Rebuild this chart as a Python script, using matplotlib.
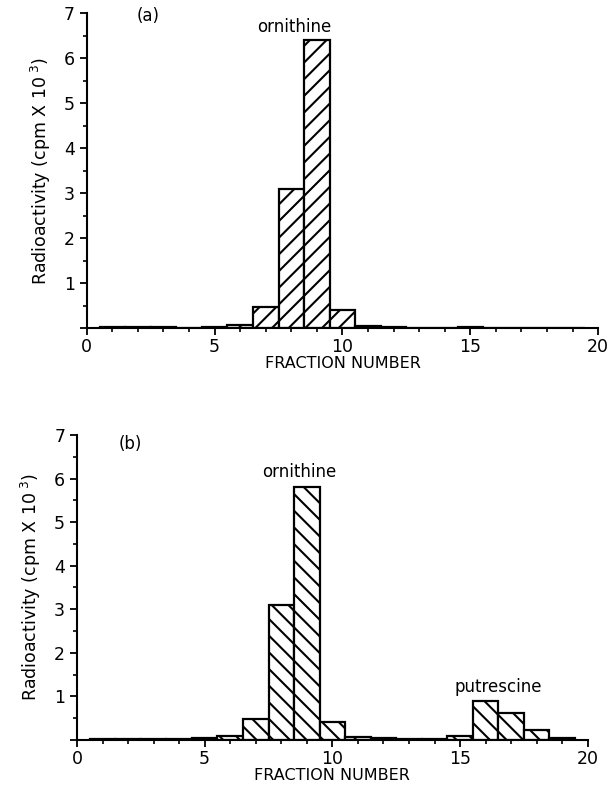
import matplotlib
matplotlib.use("Agg")
from matplotlib import pyplot as plt
from matplotlib.ticker import MultipleLocator, FixedLocator

fractions = list(range(1, 20))
# panel (a): ornithine only
counts_a = [0.02, 0.03, 0.02, 0.01, 0.03, 0.08, 0.48, 3.1, 6.4, 0.4,
            0.05, 0.03, 0.01, 0.01, 0.02, 0.01, 0.01, 0.01, 0.01]
# panel (b): ornithine + putrescine
counts_b = [0.01, 0.01, 0.01, 0.01, 0.03, 0.08, 0.47, 3.1, 5.8, 0.4,
            0.06, 0.03, 0.01, 0.01, 0.08, 0.88, 0.62, 0.23, 0.05]

y_ticks = [1, 2, 3, 4, 5, 6, 7]
x_ticks = [0, 5, 10, 15, 20]

plt.rcParams['font.family'] = ['DejaVu Sans']
plt.rcParams['hatch.linewidth'] = 1.5

fig = plt.figure(figsize=(6.11, 7.87), dpi=100)
ax_a = fig.add_axes([0.142, 0.583, 0.837, 0.400])
ax_b = fig.add_axes([0.126, 0.060, 0.836, 0.387])


def draw_panel(ax, counts, hatch):
    ax.bar(fractions, counts, width=1.0, color="white", edgecolor="black",
           linewidth=1.6, hatch=hatch)
    ax.set_xlim(0, 20)
    ax.set_ylim(0, 7)
    ax.spines['top'].set_visible(False)
    ax.spines['right'].set_visible(False)
    ax.spines['left'].set_linewidth(1.5)
    ax.spines['bottom'].set_linewidth(1.5)
    ax.xaxis.set_major_locator(FixedLocator(x_ticks))
    ax.xaxis.set_minor_locator(MultipleLocator(1))
    ax.yaxis.set_major_locator(FixedLocator([0] + y_ticks))
    ax.yaxis.set_minor_locator(MultipleLocator(0.5))
    ax.set_yticklabels([""] + [str(v) for v in y_ticks])
    ax.tick_params(which='major', direction='out', length=5, width=1.3, labelsize=12.5)
    ax.tick_params(axis='x', which='major', pad=2)
    ax.tick_params(which='minor', direction='out', length=3, width=1.2)
    ax.set_xlabel("FRACTION NUMBER", fontsize=11.5, labelpad=0)
    ax.set_ylabel("Radioactivity (cpm X 10$^{\\ 3}$)", fontsize=12.5, labelpad=8)


draw_panel(ax_a, counts_a, "//")
ax_a.text(2.4, 6.95, "(a)", fontsize=12, ha="center", va="center")
ax_a.text(8.1, 6.5, "ornithine", fontsize=12, ha="center", va="bottom")

draw_panel(ax_b, counts_b, "\\\\")
ax_b.text(2.1, 6.8, "(b)", fontsize=12, ha="center", va="center")
ax_b.text(8.7, 5.95, "ornithine", fontsize=12, ha="center", va="bottom")
ax_b.text(16.5, 1.0, "putrescine", fontsize=12, ha="center", va="bottom")

fig.savefig("out.png", dpi=100)
